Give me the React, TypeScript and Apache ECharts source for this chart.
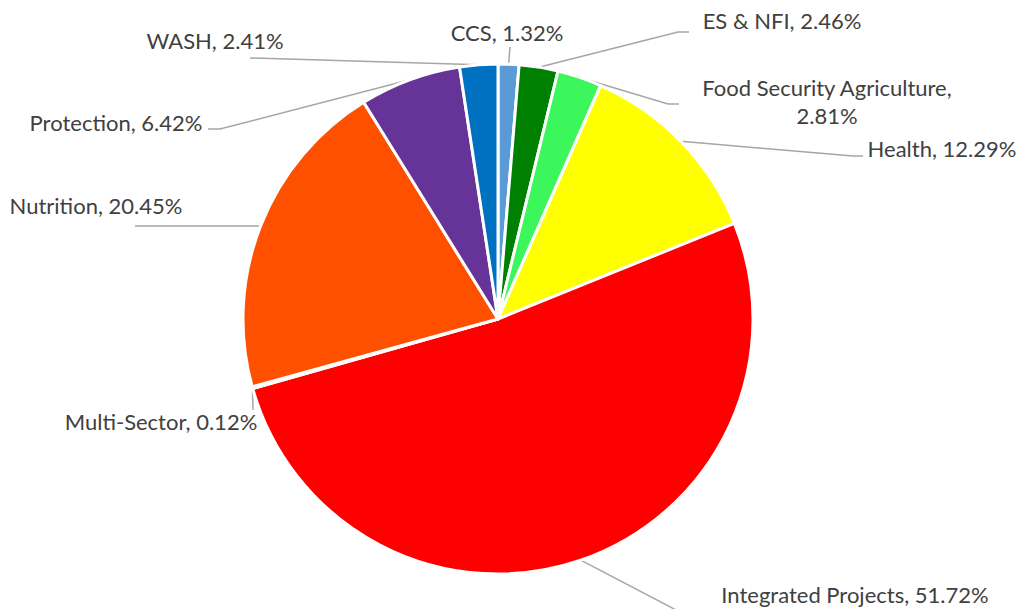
import React, { useEffect, useRef } from 'react';
import * as echarts from 'echarts';

const categories = [
  'CCS',
  'ES & NFI',
  'Food Security Agriculture',
  'Health',
  'Integrated Projects',
  'Multi-Sector',
  'Nutrition',
  'Protection',
  'WASH',
];
const shares = [1.32, 2.46, 2.81, 12.29, 51.72, 0.12, 20.45, 6.42, 2.41];
const sliceColors = [
  '#5B9BD5',
  '#008000',
  '#3BF75B',
  '#FFFF00',
  '#FF0000',
  '#A5A5A5',
  '#FF5000',
  '#663399',
  '#0070C0',
];

// label placement: [labelCenterX, labelCenterY, elbowX, elbowY, endX, endY]
const labelSpots: number[][] = [
  [507, 32, 510, 47, 510, 47],
  [782, 20, 678, 32, 689, 32],
  [827, 101, 668, 104, 679, 104],
  [942, 148, 853, 156, 863, 156],
  [855, 594, 678, 611, 700, 611],
  [161, 421, 253, 410, 253, 410],
  [96, 205, 135, 226, 135, 226],
  [116, 122, 220, 129, 208, 129],
  [215, 40, 250, 58, 250, 58],
];

export default function App() {
  const ref = useRef<HTMLDivElement>(null);
  useEffect(() => {
    const chart = echarts.init(ref.current!, null, { renderer: 'svg' });
    chart.setOption({
      animation: false,
      backgroundColor: '#ffffff',
      series: [
        {
          type: 'pie',
          center: [498, 319],
          radius: 255,
          startAngle: 90,
          clockwise: true,
          avoidLabelOverlap: false,
          emphasis: { disabled: true },
          data: categories.map((name, i) => ({
            name,
            value: shares[i],
            itemStyle: { color: sliceColors[i] },
          })),
          itemStyle: { borderColor: '#ffffff', borderWidth: 3 },
          label: {
            show: true,
            position: 'outside',
            color: '#404040',
            fontFamily: 'Lato',
            fontSize: 22,
            lineHeight: 28,
            align: 'center',
            formatter: (p: any) =>
              p.name + (p.name.length > 20 ? ',\n' : ', ') + Number(p.value).toFixed(2) + '%',
          },
          labelLine: {
            show: true,
            length: 10,
            length2: 10,
            smooth: false,
            lineStyle: { color: '#A6A6A6', width: 1.5 },
          },
          labelLayout: (p: any) => {
            const s = labelSpots[p.dataIndex];
            const start =
              p.labelLinePoints && p.labelLinePoints[0]
                ? p.labelLinePoints[0]
                : [s[2], s[3]];
            return {
              x: s[0],
              y: s[1],
              align: 'center',
              verticalAlign: 'middle',
              labelLinePoints: [start, [s[2], s[3]], [s[4], s[5]]],
            };
          },
        },
      ],
    });
    return () => chart.dispose();
  }, []);
  return (
    <div
      ref={ref}
      style={{ position: 'fixed', left: 0, top: 0, width: 1021, height: 609 }}
    />
  );
}
